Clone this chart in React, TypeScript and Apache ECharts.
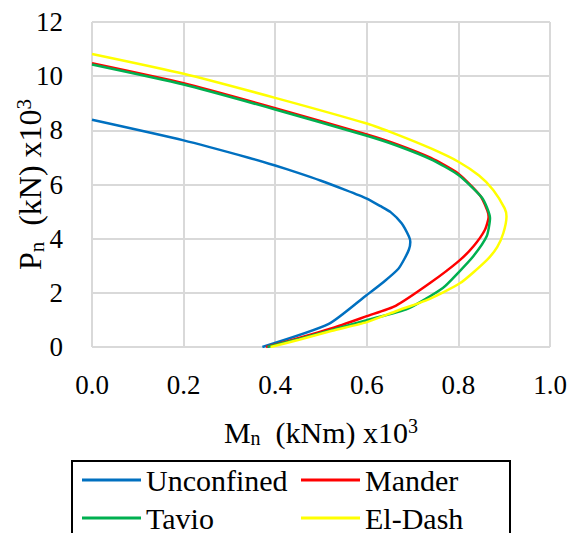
import React, { useEffect, useRef } from "react";
import * as echarts from "echarts";

const xTicks = [0, 0.2, 0.4, 0.6, 0.8, 1.0];
const yTicks = [0, 2, 4, 6, 8, 10, 12];

const seriesNames = ["Unconfined", "Mander", "Tavio", "El-Dash"];
const seriesColors = ["#0070C0", "#FF0000", "#00B050", "#FFFF00"];

const unconfinedM = [0, 0.2, 0.342, 0.4, 0.45, 0.5, 0.55, 0.6, 0.63, 0.652, 0.676, 0.692, 0.695, 0.692, 0.682, 0.669, 0.638, 0.6, 0.517, 0.372];
const unconfinedP = [8.39, 7.63, 6.99, 6.7, 6.43, 6.14, 5.82, 5.48, 5.2, 4.98, 4.57, 4.08, 3.88, 3.6, 3.25, 2.89, 2.42, 1.92, 0.85, 0];

const manderM = [0, 0.2, 0.4, 0.6, 0.665, 0.74, 0.8, 0.847, 0.863, 0.866, 0.858, 0.833, 0.8, 0.738, 0.663, 0.6, 0.524, 0.452, 0.38];
const manderP = [10.48, 9.74, 8.82, 7.85, 7.49, 6.98, 6.4, 5.6, 5.05, 4.8, 4.33, 3.72, 3.16, 2.36, 1.52, 1.14, 0.69, 0.33, 0];

const tavioM = [0, 0.2, 0.4, 0.6, 0.665, 0.74, 0.8, 0.852, 0.869, 0.862, 0.833, 0.8, 0.766, 0.69, 0.6, 0.524, 0.452, 0.383];
const tavioP = [10.43, 9.69, 8.77, 7.8, 7.44, 6.93, 6.35, 5.5, 4.76, 4.1, 3.36, 2.75, 2.18, 1.42, 0.99, 0.63, 0.3, 0];

const elDashM = [0, 0.2, 0.4, 0.6, 0.665, 0.74, 0.8, 0.845, 0.876, 0.901, 0.905, 0.898, 0.885, 0.862, 0.804, 0.735, 0.665, 0.6, 0.524, 0.452, 0.39];
const elDashP = [10.82, 10.09, 9.2, 8.25, 7.85, 7.33, 6.84, 6.33, 5.8, 5.12, 4.82, 4.2, 3.7, 3.21, 2.36, 1.76, 1.33, 0.92, 0.6, 0.27, 0];

const allM = [unconfinedM, manderM, tavioM, elDashM];
const allP = [unconfinedP, manderP, tavioP, elDashP];

const FONT = "Liberation Serif";

const titleRich = (size: number, sub: number, lh: number) => ({
  a: { fontFamily: FONT, fontSize: size, color: "#000", lineHeight: lh, verticalAlign: "middle" },
  s: { fontFamily: FONT, fontSize: sub, color: "#000", lineHeight: lh, verticalAlign: "bottom" },
  p: { fontFamily: FONT, fontSize: sub, color: "#000", lineHeight: lh, verticalAlign: "top" },
});

const tickRich = { a: { fontFamily: FONT, fontSize: 27, color: "#000", lineHeight: 30, verticalAlign: "middle" } };
const legendRich = { a: { fontFamily: FONT, fontSize: 30, color: "#000", lineHeight: 30, verticalAlign: "middle" } };

export default function App() {
  const ref = useRef<HTMLDivElement>(null);
  useEffect(() => {
    if (!ref.current) return;
    const chart = echarts.init(ref.current, null, { renderer: "svg" });
    const series = seriesNames.map((name, i) => ({
      name,
      type: "line",
      data: allM[i].map((m, k) => [m, allP[i][k]]),
      showSymbol: false,
      smooth: 0.2,
      lineStyle: { color: seriesColors[i], width: 2.5 },
      itemStyle: { color: seriesColors[i] },
      z: 2 + i,
    }));
    const legendBase = {
      orient: "vertical",
      top: 465,
      padding: 0,
      itemGap: 8,
      icon: "rect",
      itemWidth: 59,
      itemHeight: 3,
      formatter: (name: string) => `{a|${name}}`,
      textStyle: {
        fontFamily: FONT,
        fontSize: 30,
        lineHeight: 30,
        color: "#000",
        width: 170,
        overflow: "truncate",
        rich: legendRich,
      },
    };
    chart.setOption({
      animation: false,
      backgroundColor: "#fff",
      grid: { left: 92, right: 32, top: 22, bottom: 186, containLabel: false, outerBoundsMode: "none" },
      xAxis: {
        type: "value",
        min: xTicks[0],
        max: xTicks[xTicks.length - 1],
        interval: 0.2,
        axisLine: { show: false },
        axisTick: { show: false },
        axisLabel: {
          margin: 23,
          fontFamily: FONT,
          fontSize: 27,
          lineHeight: 30,
          color: "#000",
          width: 80,
          overflow: "truncate",
          rich: tickRich,
          formatter: (v: number) => `{a|${v.toFixed(1)}}`,
        },
        splitLine: { show: true, lineStyle: { color: "#D9D9D9", width: 2 } },
        name: "{a|M}{s|n}{a|  (kNm) x10}{p|3}",
        nameLocation: "middle",
        nameGap: 69,
        nameMoveOverlap: false,
        nameTextStyle: { fontFamily: FONT, color: "#000", fontSize: 30, lineHeight: 32, rich: titleRich(30, 20, 32) },
      },
      yAxis: {
        type: "value",
        min: yTicks[0],
        max: yTicks[yTicks.length - 1],
        interval: 2,
        axisLine: { show: false },
        axisTick: { show: false },
        axisLabel: {
          margin: 29,
          fontFamily: FONT,
          fontSize: 27,
          lineHeight: 30,
          color: "#000",
          width: 60,
          overflow: "truncate",
          rich: tickRich,
          formatter: (v: number) => `{a|${v}}`,
        },
        splitLine: { show: true, lineStyle: { color: "#D9D9D9", width: 2 } },
        name: "{a|P}{s|n}{a|  (kN) x10}{p|3}",
        nameLocation: "middle",
        nameRotate: 90,
        nameGap: 45,
        nameMoveOverlap: false,
        nameTextStyle: { fontFamily: FONT, color: "#000", fontSize: 32, lineHeight: 34, rich: titleRich(32, 21, 34) },
      },
      legend: [
        { ...legendBase, data: [seriesNames[0], seriesNames[2]], left: 82 },
        { ...legendBase, data: [seriesNames[1], seriesNames[3]], left: 301 },
      ],
      graphic: [
        {
          type: "rect",
          shape: { x: 72, y: 461, width: 438, height: 120 },
          style: { fill: "none", stroke: "#000", lineWidth: 2 },
          z: 1,
        },
      ],
      series,
    });
    return () => chart.dispose();
  }, []);
  return (
    <div
      ref={ref}
      style={{ position: "fixed", left: 0, top: 0, width: 582, height: 533, background: "#fff" }}
    />
  );
}
